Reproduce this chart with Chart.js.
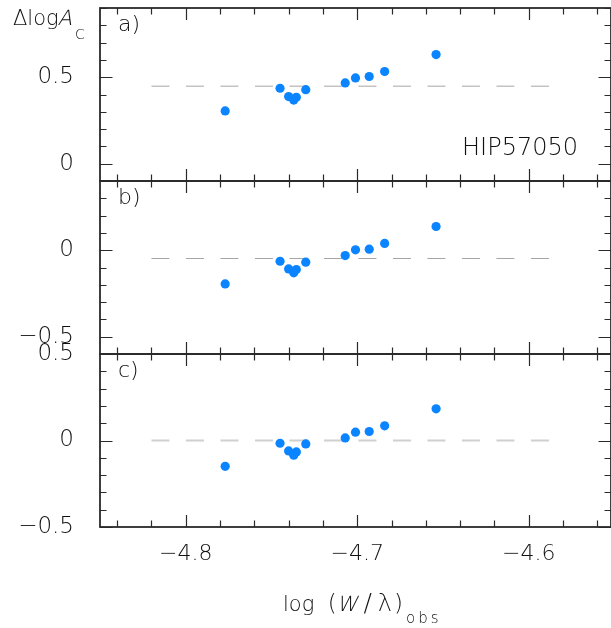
<!DOCTYPE html>
<html><head><meta charset="utf-8">
<script src="https://cdn.jsdelivr.net/npm/chart.js@4.4.1/dist/chart.umd.min.js"></script>
<style>
html,body{margin:0;padding:0;background:#fff;overflow:hidden;}
#wrap{position:relative;width:611px;height:628px;}
canvas{position:absolute;left:0;top:0;}
.t{position:absolute;font-family:"DejaVu Sans";font-weight:200;color:#111;white-space:nowrap;line-height:1;}
.it{display:inline-block;transform:skewX(-14deg);}
.sb{position:relative;vertical-align:baseline;}
</style></head><body>
<div id="wrap">
<canvas id="ca" width="611" height="628"></canvas>
<canvas id="cb" width="611" height="628"></canvas>
<canvas id="cc" width="611" height="628"></canvas>
<div class="t" id="ylab" style="left:13px;top:8px;font-size:21px;">&Delta;log<span class="it">A</span><span class="sb" style="font-size:14px;top:14px;margin-left:2px;">C</span></div>
<div class="t" id="xlab" style="left:283px;top:590px;font-size:21px;">log&nbsp;&nbsp;<span style="font-size:23px">(</span><span class="it" style="margin-left:1px;">W</span><span style="font-size:25px;margin:0 6px 0 5px;">/</span><span style="font-size:24px;margin-right:2px;">&lambda;</span><span style="font-size:23px">)</span><span class="sb" style="font-size:15px;top:12px;margin-left:3px;letter-spacing:3px;">obs</span></div>
</div>
<script>
// ---- data ----
const logW = [-4.777, -4.745, -4.740, -4.7355, -4.737, -4.730, -4.707, -4.701, -4.693, -4.684, -4.654];
const dLogA_a = [0.305, 0.436, 0.388, 0.384, 0.368, 0.428, 0.467, 0.496, 0.504, 0.533, 0.631];
const dLogA_b = [-0.195, -0.064, -0.108, -0.112, -0.131, -0.069, -0.031, 0.002, 0.006, 0.039, 0.137];
const dLogA_c = [-0.149, -0.016, -0.060, -0.066, -0.085, -0.020, 0.015, 0.048, 0.052, 0.085, 0.183];
const meanLevel = [0.448, -0.048, 0.0];
const meanSpan = [-4.82, -4.5875];
const xRange = [-4.85, -4.552];
const yRanges = [[-0.1, 0.9], [-0.6, 0.4], [-0.5, 0.5]];
const xTickLabels = [-4.8, -4.7, -4.6];
const yTickLabels = [[0, 0.5], [-0.5, 0], [-0.5, 0, 0.5]];
const panelLabels = ['a)', 'b)', 'c)'];
const starName = 'HIP57050';

// ---- layout ----
const W = 611, H = 628;
const panelTop = [8, 181, 354];
const panelBot = [181, 354, 527];
const dashStyles = [
  {color: '#c4c4c4', width: 1.6},
  {color: '#a6a6a6', width: 1.2},
  {color: '#d0d0d0', width: 2.2}
];
const fmt = v => (v < 0 ? '\u2212' : '') + (Math.abs(v) < 1e-9 ? '0' : Math.abs(v).toFixed(1));

const framePlugin = {
  id: 'frame',
  beforeDatasetsDraw(chart) {
    const {ctx, chartArea: a, scales: {x, y}} = chart;
    ctx.save();
    ctx.strokeStyle = '#2a2a2a';
    ctx.lineWidth = 1.2;
    ctx.beginPath();
    for (let k = -243; k <= -227; k++) {
      const v = k / 50;
      if (v < x.min || v > x.max) continue;
      const px = Math.round(x.getPixelForValue(v)) + 0.5;
      const len = (k % 5 === 0) ? 12 : 6.5;
      ctx.moveTo(px, a.bottom); ctx.lineTo(px, a.bottom - len);
      ctx.moveTo(px, a.top); ctx.lineTo(px, a.top + len);
    }
    for (let k = Math.ceil(y.min * 10 - 1e-6); k <= Math.floor(y.max * 10 + 1e-6); k++) {
      const v = k / 10;
      const py = Math.round(y.getPixelForValue(v)) + 0.5;
      const len = (k % 5 === 0) ? 12.5 : 6.5;
      ctx.moveTo(a.left, py); ctx.lineTo(a.left + len, py);
      ctx.moveTo(a.right, py); ctx.lineTo(a.right - len, py);
    }
    ctx.stroke();
    ctx.lineWidth = 1.8;
    ctx.strokeRect(a.left, a.top, a.right - a.left, a.bottom - a.top);
    const o = chart.options.plugins.frame;
    ctx.fillStyle = '#111';
    ctx.font = '200 22px "DejaVu Sans"';
    ctx.textBaseline = 'alphabetic';
    ctx.textAlign = 'left';
    ctx.fillText(o.label, a.left + 18, a.top + 23);
    if (o.name) {
      ctx.font = '200 24px "DejaVu Sans"';
      ctx.textAlign = 'right';
      ctx.fillText(o.name, 578, 155);
    }
    ctx.restore();
  }
};

function makePanel(id, i) {
  const isBottom = i === 2;
  const ys = [dLogA_a, dLogA_b, dLogA_c][i];
  const pts = logW.map((x, j) => ({x, y: ys[j]}));
  const ds = dashStyles[i];
  return new Chart(document.getElementById(id), {
    type: 'scatter',
    data: {
      datasets: [
        {data: pts, backgroundColor: '#0a84ff', borderWidth: 0, pointRadius: 4.6, pointHoverRadius: 4.6, order: 0},
        {type: 'line', data: meanSpan.map(x => ({x, y: meanLevel[i]})), borderColor: ds.color, borderWidth: ds.width,
         borderDash: [18, 16.5], pointRadius: 0, fill: false, order: 1}
      ]
    },
    options: {
      responsive: false, animation: false, devicePixelRatio: 1,
      events: [],
      layout: {autoPadding: false, padding: {left: 0, right: 0, top: panelTop[i], bottom: isBottom ? 0 : H - panelBot[i]}},
      plugins: {legend: {display: false}, tooltip: {enabled: false}, frame: {label: panelLabels[i], name: i === 0 ? starName : null}},
      scales: {
        x: {
          type: 'linear', min: xRange[0], max: xRange[1], display: isBottom,
          grid: {display: false}, border: {display: false},
          afterBuildTicks: s => { s.ticks = xTickLabels.map(v => ({value: v})); },
          afterFit: s => { s.height = isBottom ? H - panelBot[i] : 0; s.paddingLeft = 0; s.paddingRight = 0; },
          ticks: {font: {family: 'DejaVu Sans', size: 22, weight: 200}, color: '#111', padding: 6, maxRotation: 0, autoSkip: false,
                  callback: v => fmt(v)}
        },
        y: {
          type: 'linear', min: yRanges[i][0], max: yRanges[i][1], position: 'left',
          grid: {display: false}, border: {display: false},
          afterBuildTicks: s => { s.ticks = yTickLabels[i].map(v => ({value: v})); },
          afterFit: s => { s.width = 100; s.paddingTop = 0; s.paddingBottom = 0; },
          ticks: {font: {family: 'DejaVu Sans', size: 23, weight: 200}, color: '#111', padding: 18, autoSkip: false,
                  callback: v => fmt(v)}
        }
      }
    },
    plugins: [framePlugin]
  });
}
makePanel('ca', 0);
makePanel('cb', 1);
makePanel('cc', 2);
</script>
</body></html>
